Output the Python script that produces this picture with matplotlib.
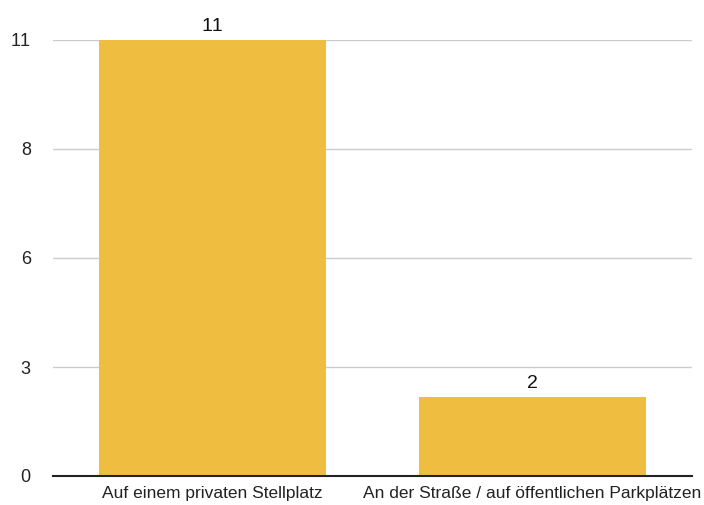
import matplotlib
matplotlib.use("Agg")
import matplotlib.pyplot as plt

categories = ["Auf einem privaten Stellplatz", "An der Straße / auf öffentlichen Parkplätzen"]
values = [11, 2]
y_ticks = [0, 2.75, 5.5, 8.25, 11]
y_tick_labels = ["0", "3", "6", "8", "11"]

plt.rcParams['font.family'] = ['Liberation Sans', 'DejaVu Sans']
plt.rcParams['text.kerning_factor'] = 6

fig = plt.figure(figsize=(7.04, 5.05), dpi=100)
ax = fig.add_axes([53/704, 29/505, 639/704, 436/505])

x = list(range(len(categories)))
bars = ax.bar(x, values, width=0.71, color="#EFBD40", zorder=3)
for xi, v in zip(x, values):
    ax.text(xi, v + 0.12, str(v), ha="center", va="bottom", fontsize=14, color="#111111")

ax.set_xlim(-0.5, 1.5)
ax.set_ylim(0, 11)
ax.set_yticks(y_ticks)
ax.set_yticklabels(y_tick_labels)
ax.set_xticks(x)
ax.set_xticklabels(categories)
ax.grid(axis="y", color="#cccccc", linewidth=1, zorder=0)
ax.set_axisbelow(True)
for s in ["top", "right", "left"]:
    ax.spines[s].set_visible(False)
ax.spines["bottom"].set_color("#222222")
ax.spines["bottom"].set_linewidth(1.5)
ax.spines["bottom"].set_zorder(4)
ax.tick_params(axis="y", length=0, pad=16, labelsize=13, labelcolor="#222222")
ax.tick_params(axis="x", length=0, pad=7, labelsize=12.5, labelcolor="#222222")

fig.savefig("out.png", dpi=100)
